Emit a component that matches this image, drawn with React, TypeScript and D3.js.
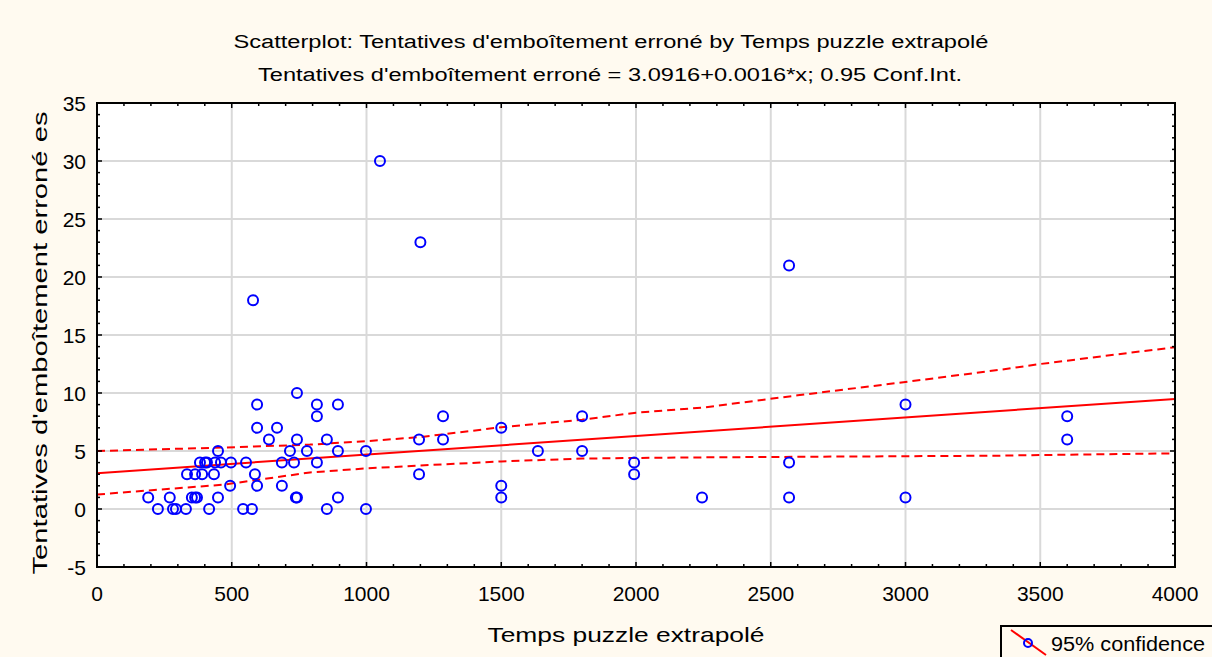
import * as d3 from "d3";

// observations, grouped by y value (x = temps puzzle extrapolé)
const pointsX = [
  190, 270, 352, 364, 371, 449, 738, 742, 894, 1500, 2245, 2568, 3000,
  226, 282, 293, 330, 416, 542, 575, 853, 998,
  494, 594, 686, 1500,
  334, 364, 390, 434, 586, 1195, 1993,
  382, 401, 408, 438, 460, 497, 553, 686, 731, 816, 1993, 2568,
  449, 716, 779, 894, 998, 1636, 1800,
  638, 742, 853, 1195, 1284, 3600,
  594, 668, 1500,
  816, 1284, 1800, 3600,
  594, 816, 894, 3000,
  742,
  579, 1050, 1200, 2568,
];
const pointsY = [
  1, 1, 1, 1, 1, 1, 1, 1, 1, 1, 1, 1, 1,
  0, 0, 0, 0, 0, 0, 0, 0, 0,
  2, 2, 2, 2,
  3, 3, 3, 3, 3, 3, 3,
  4, 4, 4, 4, 4, 4, 4, 4, 4, 4, 4, 4,
  5, 5, 5, 5, 5, 5, 5,
  6, 6, 6, 6, 6, 6,
  7, 7, 7,
  8, 8, 8, 8,
  9, 9, 9, 9,
  10,
  18, 30, 23, 21,
];

// 95% confidence band
const bandX = [0, 470, 790, 1000, 1200, 1500, 1800, 2000, 2250, 2600, 3000, 3350, 3500, 4000];
const bandUpper = [5.0, 5.3, 5.55, 5.85, 6.2, 7.05, 7.7, 8.3, 8.75, 9.8, 10.95, 12.0, 12.5, 13.95];
const bandLower = [1.25, 2.1, 3.15, 3.5, 3.75, 4.1, 4.35, 4.4, 4.45, 4.5, 4.55, 4.6, 4.65, 4.8];

const intercept = 3.0916;
const slope = 0.0016;

const xTicks = [0, 500, 1000, 1500, 2000, 2500, 3000, 3500, 4000];
const yTicks = [-5, 0, 5, 10, 15, 20, 25, 30, 35];

const W = 1212;
const H = 657;
const left = 97, right = 1175, top = 103, bottom = 567;
const font = "'Liberation Sans', Arial, sans-serif";

export default function App() {
  const x = d3.scaleLinear().domain([0, 4000]).range([left, right]);
  const y = d3.scaleLinear().domain([-5, 35]).range([bottom, top]);

  const minorX = d3.range(0, 4001, 100);
  const minorY = d3.range(-5, 36, 1);

  const band = (vals: number[]) =>
    d3.line<number>().x((_, i) => x(bandX[i])).y(d => y(d))(vals) || "";

  return (
    <div style={{ position: "absolute", left: 0, top: 0 }}>
      <svg width={W} height={H} style={{ display: "block", background: "#FFFAF0" }}>
        <text x={611} y={48} textAnchor="middle" fontFamily={font} fontSize={18}
          textLength={755} lengthAdjust="spacingAndGlyphs">
          Scatterplot: Tentatives d'emboîtement erroné by Temps puzzle extrapolé
        </text>
        <text x={610} y={81} textAnchor="middle" fontFamily={font} fontSize={18}
          textLength={704} lengthAdjust="spacingAndGlyphs">
          Tentatives d'emboîtement erroné = 3.0916+0.0016*x; 0.95 Conf.Int.
        </text>

        <rect x={left} y={top} width={right - left} height={bottom - top} fill="#fff" />

        {/* grid */}
        <g stroke="#d9d9d9" strokeWidth={2}>
          {xTicks.slice(1, -1).map(t => (
            <line key={"gx" + t} x1={x(t)} x2={x(t)} y1={top} y2={bottom} />
          ))}
          {yTicks.slice(1, -1).map(t => (
            <line key={"gy" + t} x1={left} x2={right} y1={y(t)} y2={y(t)} />
          ))}
        </g>

        {/* confidence band + regression */}
        <g fill="none" stroke="#ff0000" strokeWidth={2}>
          <path d={band(bandUpper)} strokeDasharray="8,5" />
          <path d={band(bandLower)} strokeDasharray="8,5" />
          <line x1={x(0)} y1={y(intercept)} x2={x(4000)} y2={y(intercept + slope * 4000)} />
        </g>

        {/* points */}
        <g fill="none" stroke="#0000ff" strokeWidth={2}>
          {pointsX.map((px, i) => (
            <circle key={i} cx={x(px)} cy={y(pointsY[i])} r={5} />
          ))}
        </g>

        {/* ticks */}
        <g stroke="#000" strokeWidth={1.5}>
          {minorX.map(t => {
            const len = t % 500 === 0 ? 5 : 3;
            return (
              <g key={"tx" + t}>
                <line x1={x(t)} x2={x(t)} y1={bottom} y2={bottom - len} />
                <line x1={x(t)} x2={x(t)} y1={top} y2={top + len} />
              </g>
            );
          })}
          {minorY.map(t => {
            const len = t % 5 === 0 ? 5 : 3;
            return (
              <g key={"ty" + t}>
                <line x1={left} x2={left + len} y1={y(t)} y2={y(t)} />
                <line x1={right} x2={right - len} y1={y(t)} y2={y(t)} />
              </g>
            );
          })}
        </g>

        <rect x={left} y={top} width={right - left} height={bottom - top}
          fill="none" stroke="#000" strokeWidth={2} />

        {/* tick labels */}
        <g fontFamily={font} fontSize={21} fill="#000">
          {xTicks.map(t => (
            <text key={"lx" + t} x={x(t)} y={601} textAnchor="middle">{t}</text>
          ))}
          {yTicks.map(t => (
            <text key={"ly" + t} x={86} y={y(t)} dy="0.36em" textAnchor="end">{t}</text>
          ))}
        </g>

        <text x={626} y={642} textAnchor="middle" fontFamily={font} fontSize={21}
          textLength={277} lengthAdjust="spacingAndGlyphs">
          Temps puzzle extrapolé
        </text>
        <text transform={`translate(47,${(top + bottom) / 2 + 8}) rotate(-90)`} textAnchor="middle"
          fontFamily={font} fontSize={21} textLength={463} lengthAdjust="spacingAndGlyphs">
          Tentatives d'emboîtement erroné es
        </text>

        {/* legend */}
        <rect x={1001} y={626} width={230} height={50} fill="#FFFAF0" stroke="#000" strokeWidth={2} />
        <line x1={1011} y1={630} x2={1046} y2={655} stroke="#ff0000" strokeWidth={2} />
        <circle cx={1028} cy={643} r={4} fill="none" stroke="#0000ff" strokeWidth={2} />
        <text x={1051} y={651} fontFamily={font} fontSize={20}
          textLength={154} lengthAdjust="spacingAndGlyphs">95% confidence</text>
      </svg>
    </div>
  );
}
